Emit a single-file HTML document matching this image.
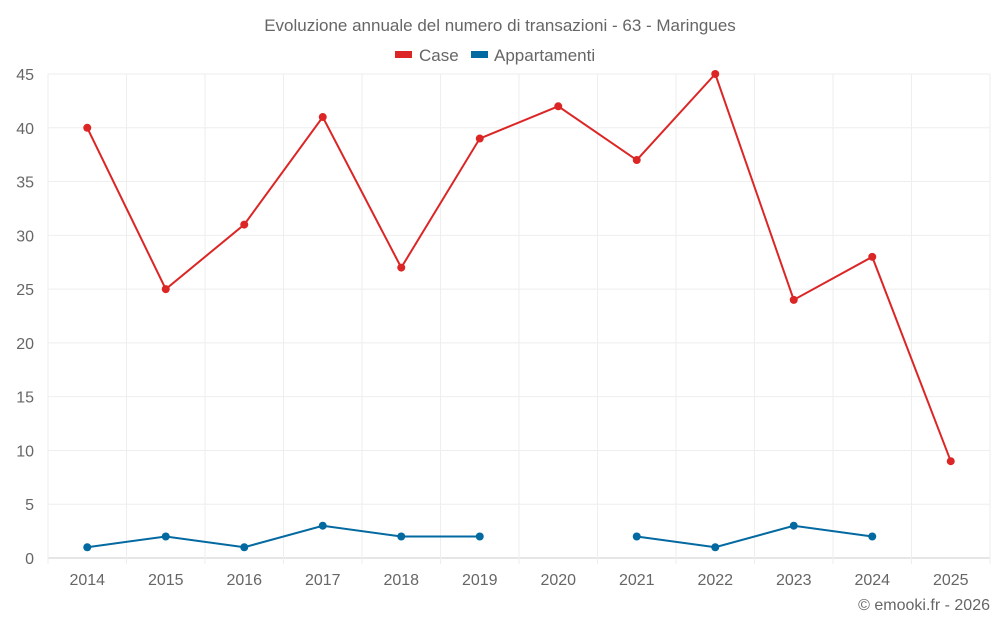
<!DOCTYPE html>
<html><head><meta charset="utf-8"><style>
body{margin:0;background:#fff;font-family:"Liberation Sans",sans-serif}
svg text{font-family:"Liberation Sans",sans-serif;fill:#666}
</style></head><body>
<svg id="c" width="1000" height="625">
<text x="500" y="31" text-anchor="middle" font-size="17">Evoluzione annuale del numero di transazioni - 63 - Maringues</text>
<g>
<g><rect x="395" y="51" width="17" height="7" fill="#dc2626"/><text x="419" y="61" font-size="17">Case</text></g>
<g><rect x="471" y="51" width="17" height="7" fill="#0369a1"/><text x="494" y="61" font-size="17">Appartamenti</text></g>
</g>
<g id="grid"></g>
<g id="axes"></g>
<g id="series"></g>
<text x="990" y="610" text-anchor="end" font-size="16">© emooki.fr - 2026</text>
</svg>
<script>
const years=["2014","2015","2016","2017","2018","2019","2020","2021","2022","2023","2024","2025"];
const caseVals=[40,25,31,41,27,39,42,37,45,24,28,9];
const appVals=[1,2,1,3,2,2,null,2,1,3,2,null];
const yTicks=[0,5,10,15,20,25,30,35,40,45];
const NS="http://www.w3.org/2000/svg";
const L=48,R=990,T=74,B=558,yMax=45;
const bw=(R-L)/years.length;
const x=i=>L+bw*(i+0.5);
const y=v=>B-(v/yMax)*(B-T);
function mk(t,a,p){const e=document.createElementNS(NS,t);for(const k in a)e.setAttribute(k,a[k]);p.appendChild(e);return e;}
const g=document.getElementById('grid'),ax=document.getElementById('axes'),s=document.getElementById('series');
yTicks.forEach(v=>{
 const l=mk('line',{x1:L,x2:R,y1:y(v),y2:y(v),stroke:v===0?'#ccc':'#eee','stroke-width':1},g);
 
 
 const t=mk('text',{x:34,y:y(v)+6,'text-anchor':'end','font-size':16},ax);
 t.textContent=v;
 
 
});
for(let i=0;i<=years.length;i++){
 const l=mk('line',{x1:L+bw*i,x2:L+bw*i,y1:T,y2:B+6,stroke:'#eee'},g);
 
 
}
years.forEach((yr,i)=>{
 const t=mk('text',{x:x(i),y:585,'text-anchor':'middle','font-size':16},ax);
 t.textContent=yr;
 
 
});
function draw(vals,color,name){
 let d='',pen=false;
 vals.forEach((v,i)=>{if(v==null){pen=false;return;}d+=(pen?'L':'M')+x(i)+' '+y(v)+' ';pen=true;});
 const p=mk('path',{d:d,fill:'none',stroke:color,'stroke-width':2},s);
 
 
 vals.forEach((v,i)=>{if(v==null)return;
  const c=mk('circle',{cx:x(i),cy:y(v),r:4,fill:color},s);
  
  
 });
}
draw(caseVals,'#dc2626','case');
draw(appVals,'#0369a1','appartamenti');
</script>
</body></html>
